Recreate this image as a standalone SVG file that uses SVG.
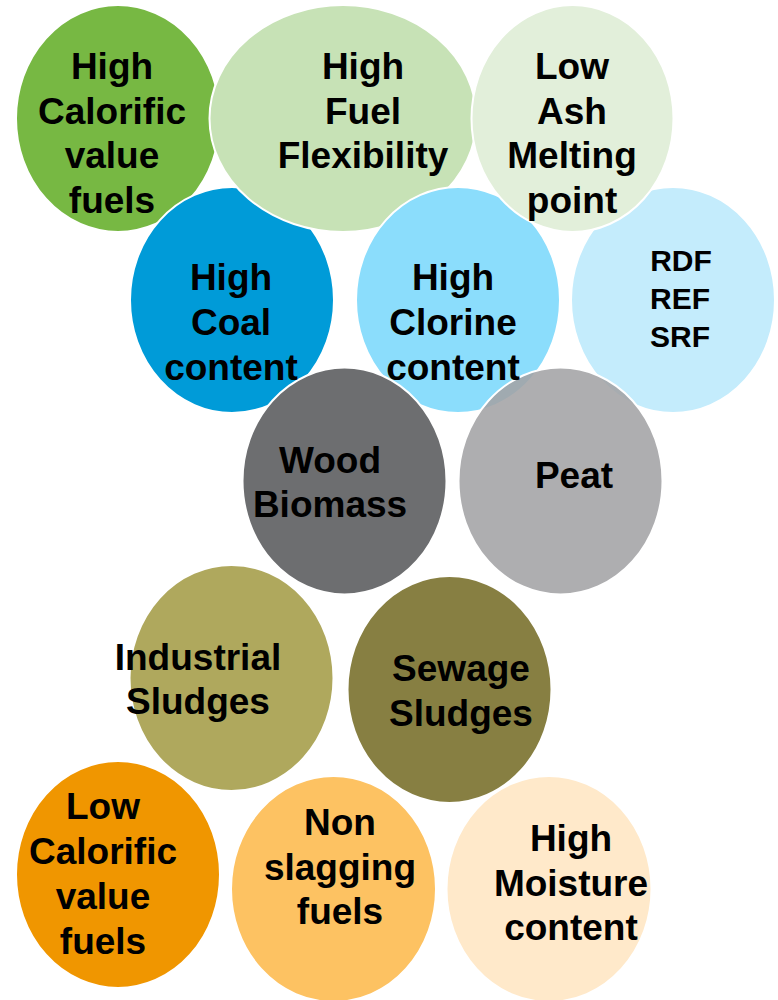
<svg xmlns="http://www.w3.org/2000/svg" width="778" height="1000" viewBox="0 0 778 1000">
<style>
ellipse{stroke:#fff;stroke-width:2}
text{font-family:"Liberation Sans",Arial,sans-serif;font-weight:bold;font-size:37px;fill:#000;text-anchor:middle}
.s{font-size:30px}
</style>
<rect width="778" height="1000" fill="#fff"/>
<g id="n-high-calorific"><ellipse cx="118" cy="118.5" rx="102" ry="113.5" fill="#77B843"/></g>
<g id="n-high-coal"><ellipse cx="232" cy="300" rx="102" ry="113" fill="#009BD8"/></g>
<g id="n-high-fuel"><ellipse cx="343" cy="118.5" rx="133.5" ry="113.5" fill="#C7E2B6"/></g>
<g id="n-high-clorine"><ellipse cx="458" cy="300" rx="102" ry="113" fill="#8BDDFC"/></g>
<g id="n-rdf"><ellipse cx="673" cy="300" rx="102" ry="113" fill="#C4ECFC"/></g>
<g id="n-low-ash"><ellipse cx="572.5" cy="118.5" rx="101" ry="113.5" fill="#E2EFDA"/></g>
<g id="n-wood"><ellipse cx="344.5" cy="481" rx="102" ry="113.5" fill="#6D6E70"/></g>
<g id="n-peat"><ellipse cx="560.5" cy="481" rx="102" ry="113.5" fill="#A3A3A5" fill-opacity="0.88"/></g>
<g id="n-industrial"><ellipse cx="231.5" cy="678" rx="102" ry="113" fill="#AFA85D"/></g>
<g id="n-sewage"><ellipse cx="449.5" cy="689.5" rx="102" ry="113.5" fill="#877F42"/></g>
<g id="n-low-calorific"><ellipse cx="118" cy="874.5" rx="102" ry="113.5" fill="#F09600"/></g>
<g id="n-non-slagging"><ellipse cx="333.5" cy="889" rx="102.5" ry="113" fill="#FDC262"/></g>
<g id="n-high-moisture"><ellipse cx="549" cy="889" rx="102.5" ry="113" fill="#FFE9CA"/></g>
<g id="labels">
<text x="112" y="79">High</text><text x="112" y="123.5">Calorific</text><text x="112" y="168">value</text><text x="112" y="212.5">fuels</text>
<text x="363" y="79">High</text><text x="363" y="123.5">Fuel</text><text x="363" y="168">Flexibility</text>
<text x="572" y="79">Low</text><text x="572" y="123.5">Ash</text><text x="572" y="168">Melting</text><text x="572" y="212.5">point</text>
<text x="231" y="290">High</text><text x="231" y="335">Coal</text><text x="231" y="380">content</text>
<text x="453" y="290">High</text><text x="453" y="335">Clorine</text><text x="453" y="380">content</text>
<text class="s" x="681" y="271">RDF</text><text class="s" x="680" y="309">REF</text><text class="s" x="680" y="347">SRF</text>
<text x="330" y="473">Wood</text><text x="330" y="517">Biomass</text>
<text x="574" y="488">Peat</text>
<text x="198" y="670">Industrial</text><text x="198" y="714">Sludges</text>
<text x="461" y="681">Sewage</text><text x="461" y="726">Sludges</text>
<text x="103" y="819">Low</text><text x="103" y="864">Calorific</text><text x="103" y="909">value</text><text x="103" y="954">fuels</text>
<text x="340" y="835">Non</text><text x="340" y="880">slagging</text><text x="340" y="924">fuels</text>
<text x="571" y="851">High</text><text x="571" y="896">Moisture</text><text x="571" y="940">content</text>
</g>
<g id="connectors"/>
</svg>
